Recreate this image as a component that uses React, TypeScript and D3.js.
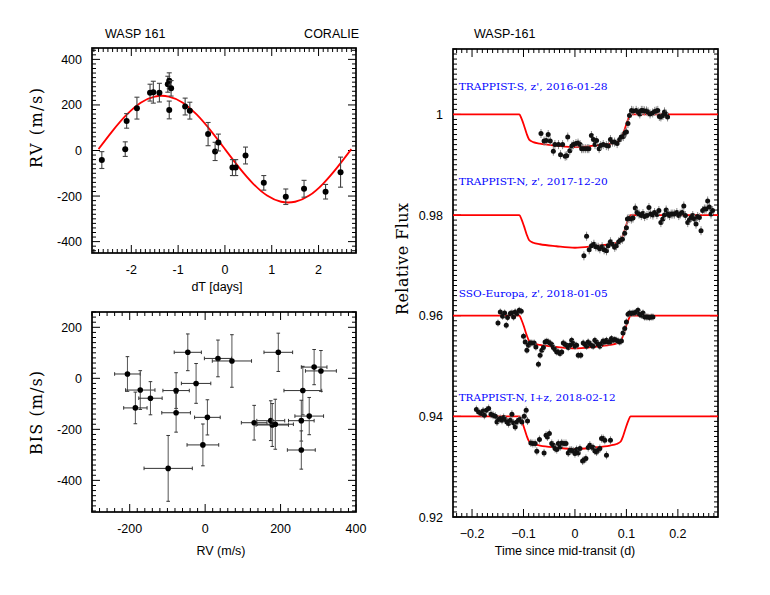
import React from "react";
import * as d3 from "d3";

// ---- top left: RV orbit (CORALIE) ----
const rvTime = [-2.63, -2.13, -2.1, -1.88, -1.6, -1.53, -1.4, -1.22, -1.19, -1.15, -1.19, -0.85, -0.75, -0.36, -0.21, -0.14, 0.16, 0.23, 0.44, 0.83, 1.3, 1.69, 2.15, 2.47];
const rvValue = [-42, 6, 130, 186, 254, 256, 254, 291, 306, 273, 178, 193, 175, 72, -4, 35, -75, -75, -22, -142, -203, -168, -181, -95];
const rvError = [37, 32, 32, 48, 37, 48, 41, 35, 35, 34, 39, 37, 37, 51, 40, 37, 35, 35, 37, 32, 34, 37, 32, 66];
// fitted orbit
const rvModelT = [-2.7, -2.4, -2.1, -1.8, -1.5, -1.2, -0.9, -0.6, -0.3, 0, 0.3, 0.6, 0.9, 1.2, 1.5, 1.8, 2.1, 2.4, 2.7];
const rvModelV = [6, 86, 157, 210, 237, 237, 210, 157, 86, 6, -74, -145, -198, -225, -225, -198, -145, -74, 6];
const rvXTicks = [-2, -1, 0, 1, 2];
const rvYTicks = [-400, -200, 0, 200, 400];

// ---- bottom left: bisector span vs RV ----
const bisRv = [-206, -172, -185, -145, -98, -77, -77, -46, -24, -6, 6, 34, 71, 194, 130, 174, 178, 186, 259, 255, 255, 276, 289, 307];
const bisRvErr = [34, 39, 31, 31, 64, 35, 38, 36, 39, 42, 34, 36, 52, 38, 34, 37, 43, 48, 50, 34, 37, 38, 34, 41];
const bisValue = [17, -46, -116, -78, -353, -48, -135, 102, -20, -261, -153, 78, 68, 102, -174, -166, -183, -180, -48, -166, -281, -148, 44, 29];
const bisErr = [68, 76, 62, 65, 129, 70, 76, 72, 78, 82, 69, 72, 103, 75, 68, 78, 84, 98, 95, 80, 75, 73, 69, 80];
const bisXTicks = [-200, 0, 200, 400];
const bisYTicks = [-400, -200, 0, 200];

// ---- right: transit light curves ----
const lcNames = ["TRAPPIST-S, z', 2016-01-28", "TRAPPIST-N, z', 2017-12-20", "SSO-Europa, z', 2018-01-05", "TRAPPIST-N, I+z, 2018-02-12"];
const lcOffset = [0, 0.02, 0.04, 0.06];
const lcLabelFlux = [1.0056, 0.9866, 0.9645, 0.9437];
const lcErr = [0.0009, 0.0009, 0.0007, 0.0008];

const ds1T = [-0.066, -0.06, -0.056, -0.052, -0.048, -0.042, -0.039, -0.032, -0.028, -0.024, -0.019, -0.016, -0.014, -0.01, -0.006, -0.003, 0.002, 0.006, 0.01, 0.013, 0.016, 0.02, 0.024, 0.027, 0.032, 0.036, 0.039, 0.042, 0.047, 0.05, 0.055, 0.061, 0.065, 0.069, 0.073, 0.077, 0.082, 0.087, 0.09, 0.094, 0.097, 0.1, 0.103, 0.106, 0.11, 0.113, 0.119, 0.123, 0.126, 0.129, 0.132, 0.135, 0.139, 0.142, 0.146, 0.151, 0.155, 0.158, 0.161, 0.164, 0.167, 0.171, 0.174, 0.177, 0.18];
const ds1F = [0.9962, 0.9947, 0.9948, 0.996, 0.9947, 0.9927, 0.994, 0.994, 0.992, 0.994, 0.9917, 0.9918, 0.9955, 0.9928, 0.9937, 0.994, 0.9942, 0.9943, 0.994, 0.9932, 0.9932, 0.9932, 0.9932, 0.9932, 0.9958, 0.995, 0.994, 0.9948, 0.9932, 0.9938, 0.994, 0.9938, 0.9937, 0.995, 0.9945, 0.9945, 0.9942, 0.995, 0.9955, 0.9956, 0.9963, 0.9965, 0.9982, 0.9998, 1.0008, 1.0007, 1.0008, 1.0005, 1.0001, 1.0008, 1.0008, 1.0007, 1.0007, 1.0005, 1.0001, 1.0003, 1.0006, 1.0007, 1.0008, 0.9996, 0.9995, 0.9998, 1.0005, 1.0001, 0.9995];

const ds2T = [0.0174, 0.0226, 0.0277, 0.0322, 0.0368, 0.0406, 0.0451, 0.0484, 0.0528, 0.0567, 0.0613, 0.0645, 0.069, 0.0729, 0.0774, 0.0806, 0.0851, 0.0884, 0.0922, 0.0967, 0.1, 0.102, 0.105, 0.1096, 0.1128, 0.1173, 0.1206, 0.1245, 0.129, 0.1322, 0.1354, 0.14, 0.1438, 0.147, 0.1515, 0.1547, 0.1593, 0.1631, 0.167, 0.1709, 0.174, 0.1773, 0.1806, 0.1838, 0.187, 0.1902, 0.1934, 0.198, 0.2018, 0.2044, 0.2083, 0.2115, 0.2147, 0.2192, 0.2224, 0.2257, 0.2289, 0.2321, 0.2353, 0.2385, 0.2418, 0.245, 0.2482, 0.2515, 0.2547, 0.2579, 0.2611, 0.2644, 0.2675];
const ds2F = [0.9919, 0.9958, 0.9931, 0.9939, 0.9942, 0.9937, 0.9936, 0.9933, 0.9937, 0.9931, 0.9929, 0.9939, 0.9947, 0.9942, 0.9936, 0.9939, 0.9947, 0.995, 0.9952, 0.9964, 0.9975, 0.9992, 0.9993, 0.9992, 0.9994, 1.0014, 1.0005, 1.0002, 0.9999, 1.0003, 0.9997, 0.9999, 1.0015, 1.0002, 1.0, 1.0005, 1.0001, 1.0009, 0.9985, 0.9992, 1.0, 1.001, 1.0002, 0.9999, 1.0002, 1.0002, 1.0002, 1.0005, 0.9999, 1.0002, 1.0005, 1.0018, 0.9999, 0.9985, 0.999, 0.9995, 0.9999, 0.9992, 0.9982, 0.9997, 0.9995, 0.9969, 1.0009, 1.0012, 1.0012, 1.0028, 1.0016, 1.0002, 1.0009];

const ds3T = [-0.1496, -0.1451, -0.1406, -0.1367, -0.1335, -0.1309, -0.1257, -0.1225, -0.1193, -0.1161, -0.1128, -0.1083, -0.1044, -0.1, -0.0967, -0.0934, -0.0903, -0.087, -0.0838, -0.0793, -0.076, -0.071, -0.0677, -0.0644, -0.0613, -0.058, -0.0547, -0.0516, -0.0484, -0.0451, -0.042, -0.0387, -0.0354, -0.0323, -0.029, -0.0257, -0.0226, -0.0193, -0.0161, -0.013, -0.0097, -0.0064, -0.0032, 0, 0.0032, 0.0064, 0.0113, 0.0161, 0.0193, 0.0226, 0.0257, 0.029, 0.0323, 0.0354, 0.0387, 0.042, 0.0451, 0.0484, 0.0516, 0.0547, 0.058, 0.0613, 0.0644, 0.0677, 0.071, 0.0742, 0.0774, 0.0806, 0.0838, 0.087, 0.0903, 0.0934, 0.0967, 0.1, 0.1032, 0.1064, 0.1096, 0.1128, 0.1161, 0.1193, 0.1225, 0.1257, 0.129, 0.1322, 0.1354, 0.1386, 0.1418, 0.145, 0.1483, 0.1515];
const ds3F = [0.99855, 1.00074, 0.99988, 1.00054, 0.99809, 0.99962, 1.00042, 1.00054, 0.99974, 1.00074, 1.00042, 1.00107, 1.00087, 0.99591, 0.99478, 0.99313, 0.99412, 0.99458, 0.99458, 0.99458, 0.99378, 0.99035, 0.99213, 0.99313, 0.99366, 0.99478, 0.99492, 0.99478, 0.99458, 0.99426, 0.99366, 0.99327, 0.99279, 0.99279, 0.99247, 0.99279, 0.99458, 0.99432, 0.99412, 0.99366, 0.99412, 0.99511, 0.99446, 0.99392, 0.99412, 0.99213, 0.99213, 0.99458, 0.99432, 0.99392, 0.99478, 0.99446, 0.99412, 0.99392, 0.99511, 0.99478, 0.99432, 0.99392, 0.99446, 0.99498, 0.99478, 0.99511, 0.99478, 0.99478, 0.99545, 0.99511, 0.99525, 0.99511, 0.99498, 0.99478, 0.99498, 0.99656, 0.99744, 0.99875, 1.00028, 1.00054, 1.00042, 1.00054, 1.00054, 1.00074, 1.00107, 1.00028, 1.00008, 1.00054, 0.99974, 0.99974, 0.99974, 0.99962, 0.99974, 0.99974];

const ds4T = [-0.1915, -0.187, -0.1824, -0.1785, -0.176, -0.1721, -0.1677, -0.1631, -0.1592, -0.1547, -0.1515, -0.1483, -0.1451, -0.1418, -0.1386, -0.1354, -0.1322, -0.129, -0.1257, -0.1225, -0.1193, -0.1161, -0.1128, -0.1096, -0.1064, -0.1032, -0.0986, -0.0948, -0.0922, -0.0857, -0.0818, -0.0774, -0.0741, -0.069, -0.06, -0.0561, -0.0535, -0.0497, -0.0451, -0.042, -0.0387, -0.0354, -0.0323, -0.029, -0.0257, -0.0213, -0.0174, -0.013, -0.0097, -0.0064, -0.0032, 0, 0.0032, 0.0064, 0.0097, 0.0148, 0.0174, 0.0213, 0.0258, 0.029, 0.0323, 0.0354, 0.0387, 0.042, 0.0451, 0.0484, 0.0516, 0.0548, 0.058, 0.0613, 0.069];
const ds4F = [1.00135, 1.00087, 1.00056, 1.00107, 1.00022, 1.00121, 1.00155, 1.00042, 1.00022, 1.00002, 0.99889, 0.99936, 0.99956, 0.99923, 0.99976, 0.99936, 0.99889, 0.99857, 0.99923, 1.00042, 0.99869, 0.99789, 0.99889, 0.99923, 0.99936, 0.99889, 1.00002, 1.00121, 0.99909, 0.99472, 0.9946, 0.9946, 0.99307, 0.99539, 0.99273, 0.99625, 0.99591, 0.99658, 0.9946, 0.99427, 0.9936, 0.9934, 0.9946, 0.99392, 0.99472, 0.9946, 0.9946, 0.99273, 0.99327, 0.99327, 0.99313, 0.99261, 0.9934, 0.99273, 0.9936, 0.99114, 0.99128, 0.99162, 0.9938, 0.99427, 0.99392, 0.9938, 0.99313, 0.99293, 0.99327, 0.9936, 0.99559, 0.99559, 0.99525, 0.99227, 0.99525];

// transit model shape (flux drop)
const modelT = [-0.24, -0.108, -0.104, -0.099, -0.094, -0.089, -0.081, -0.068, -0.036, 0, 0.036, 0.068, 0.081, 0.089, 0.094, 0.099, 0.104, 0.108, 0.28];
const modelDip = [0, 0, -0.0008, -0.0022, -0.0038, -0.005, -0.0055, -0.0058, -0.0062, -0.0065, -0.0062, -0.0058, -0.0055, -0.005, -0.0038, -0.0022, -0.0008, 0, 0];
const lcXTicks = [-0.2, -0.1, 0, 0.1, 0.2];
const lcYTicks = [0.92, 0.94, 0.96, 0.98, 1];

const sans = "'Liberation Sans', Arial, Helvetica, sans-serif";
const serif = "'DejaVu Serif', 'Liberation Serif', serif";

type Lin = d3.ScaleLinear<number, number>;

function stepTicks(s: Lin, step: number) {
  const [a, b] = s.domain();
  const lo = Math.min(a, b), hi = Math.max(a, b);
  const out: number[] = [];
  for (let i = Math.ceil(lo / step - 1e-9); i <= Math.floor(hi / step + 1e-9); i++) out.push(i * step);
  return out;
}

function Frame(props: {
  x: Lin; y: Lin; xMajor: number; xMinor: number; yMajor: number; yMinor: number;
  xLabels: number[]; yLabels: number[]; fmtX?: (v: number) => string; fmtY?: (v: number) => string;
}) {
  const { x, y, xMajor, xMinor, yMajor, yMinor, xLabels, yLabels } = props;
  const fmtX = props.fmtX || ((v: number) => String(v));
  const fmtY = props.fmtY || ((v: number) => String(v));
  const [x0, x1] = x.range();
  const [yb, yt] = y.range();
  const big = 8, small = 4;
  const isMaj = (v: number, st: number) => Math.abs(v / st - Math.round(v / st)) < 1e-4;
  return (
    <g>
      <g stroke="#000" strokeWidth={1}>
        {stepTicks(x, xMinor).map((v, i) => {
          const L = isMaj(v, xMajor) ? big : small;
          const px = x(v);
          return (
            <g key={"x" + i}>
              <line x1={px} x2={px} y1={yb} y2={yb - L} />
              <line x1={px} x2={px} y1={yt} y2={yt + L} />
            </g>
          );
        })}
        {stepTicks(y, yMinor).map((v, i) => {
          const L = isMaj(v, yMajor) ? big : small;
          const py = y(v);
          return (
            <g key={"y" + i}>
              <line x1={x0} x2={x0 + L} y1={py} y2={py} />
              <line x1={x1} x2={x1 - L} y1={py} y2={py} />
            </g>
          );
        })}
      </g>
      <rect x={x0} y={yt} width={x1 - x0} height={yb - yt} fill="none" stroke="#000" strokeWidth={1.7} />
      <g fontFamily={sans} fontSize={12.5} fill="#000">
        {xLabels.map((v) => (
          <text key={"xl" + v} x={x(v)} y={yb + 21} textAnchor="middle">{fmtX(v)}</text>
        ))}
        {yLabels.map((v) => (
          <text key={"yl" + v} x={x0 - 10} y={y(v) + 4.5} textAnchor="end">{fmtY(v)}</text>
        ))}
      </g>
    </g>
  );
}

export default function App() {
  const xRv = d3.scaleLinear().domain([-2.84, 2.8]).range([92, 356]);
  const yRv = d3.scaleLinear().domain([-450, 450]).range([253, 48]);
  const xBis = d3.scaleLinear().domain([-300, 400]).range([92, 356]);
  const yBis = d3.scaleLinear().domain([-524, 260]).range([512, 312]);
  const xLc = d3.scaleLinear().domain([-0.237, 0.278]).range([453, 718]);
  const yLc = d3.scaleLinear().domain([0.92, 1.013]).range([517, 49]);

  const rvLine = d3
    .line<number>()
    .x((_, i) => xRv(rvModelT[i]))
    .y((v) => yRv(v))
    .curve(d3.curveNatural);

  const lcT = [ds1T, ds2T, ds3T, ds4T];
  const lcF = [ds1F, ds2F, ds3F, ds4F];

  const fmtLc = (v: number) => (v === 1 ? "1" : d3.format(".2f")(v));
  const fmtLcX = (v: number) => (Math.abs(v) < 1e-9 ? "0" : d3.format(".1f")(v));

  return (
    <svg width={770} height={595} style={{ position: "absolute", left: 0, top: 0, background: "#fff" }}>
      <defs>
        <clipPath id="clipRv"><rect x={92} y={48} width={264} height={205} /></clipPath>
        <clipPath id="clipLc"><rect x={453} y={49} width={265} height={468} /></clipPath>
      </defs>
      <rect width={770} height={595} fill="#fff" />

      {/* titles */}
      <g fontFamily={sans} fontSize={12.5}>
        <text x={105} y={38}>WASP 161</text>
        <text x={359} y={38} textAnchor="end">CORALIE</text>
        <text x={474} y={38}>WASP-161</text>
      </g>

      {/* RV panel */}
      <Frame x={xRv} y={yRv} xMajor={1} xMinor={0.1} yMajor={200} yMinor={20} xLabels={rvXTicks} yLabels={rvYTicks} />
      <path d={rvLine(rvModelV) || ""} fill="none" stroke="#ff0000" strokeWidth={1.8} clipPath="url(#clipRv)" />
      <g>
        {rvTime.map((t, i) => {
          const px = xRv(t);
          const lo = yRv(rvValue[i] - rvError[i]);
          const hi = yRv(rvValue[i] + rvError[i]);
          return (
            <g key={"rv" + i} stroke="#444" strokeWidth={1.1}>
              <line x1={px} x2={px} y1={lo} y2={hi} />
              <line x1={px - 2.5} x2={px + 2.5} y1={lo} y2={lo} />
              <line x1={px - 2.5} x2={px + 2.5} y1={hi} y2={hi} />
              <circle cx={px} cy={yRv(rvValue[i])} r={3} fill="#000" stroke="none" />
            </g>
          );
        })}
      </g>
      <text x={217} y={291} textAnchor="middle" fontFamily={sans} fontSize={12.5}>dT [days]</text>
      <text transform="translate(36,128) rotate(-90)" textAnchor="middle" dominantBaseline="central"
        fontFamily={serif} fontSize={16} textLength={80} lengthAdjust="spacing">RV (m/s)</text>

      {/* BIS panel */}
      <Frame x={xBis} y={yBis} xMajor={200} xMinor={20} yMajor={200} yMinor={20} xLabels={bisXTicks} yLabels={bisYTicks} />
      <g>
        {bisRv.map((r, i) => {
          const px = xBis(r);
          const py = yBis(bisValue[i]);
          const xl = xBis(r - bisRvErr[i]);
          const xr = xBis(r + bisRvErr[i]);
          const yl = yBis(bisValue[i] - bisErr[i]);
          const yh = yBis(bisValue[i] + bisErr[i]);
          return (
            <g key={"bis" + i} stroke="#333" strokeWidth={1}>
              <line x1={xl} x2={xr} y1={py} y2={py} />
              <line x1={xl} x2={xl} y1={py - 1.8} y2={py + 1.8} />
              <line x1={xr} x2={xr} y1={py - 1.8} y2={py + 1.8} />
              <line x1={px} x2={px} y1={yl} y2={yh} stroke="#555" />
              <line x1={px - 1.8} x2={px + 1.8} y1={yl} y2={yl} />
              <line x1={px - 1.8} x2={px + 1.8} y1={yh} y2={yh} />
              <circle cx={px} cy={py} r={2.8} fill="#000" stroke="none" />
            </g>
          );
        })}
      </g>
      <text x={221} y={555} textAnchor="middle" fontFamily={sans} fontSize={12.5}>RV (m/s)</text>
      <text transform="translate(36,413) rotate(-90)" textAnchor="middle" dominantBaseline="central"
        fontFamily={serif} fontSize={16} textLength={84} lengthAdjust="spacing">BIS (m/s)</text>

      {/* light curves */}
      <Frame x={xLc} y={yLc} xMajor={0.1} xMinor={0.01} yMajor={0.02} yMinor={0.001}
        xLabels={lcXTicks} yLabels={lcYTicks} fmtX={fmtLcX} fmtY={fmtLc} />
      <g clipPath="url(#clipLc)">
        {lcOffset.map((off, k) => {
          const line = d3
            .line<number>()
            .x((_, i) => xLc(modelT[i]))
            .y((d) => yLc(1 - off + d))
            .curve(d3.curveMonotoneX);
          return <path key={"m" + k} d={line(modelDip) || ""} fill="none" stroke="#ff0000" strokeWidth={1.8} />;
        })}
        {lcT.map((ts, k) =>
          ts.map((t, i) => {
            const f = lcF[k][i];
            if (f === undefined) return null;
            const v = f - lcOffset[k];
            const px = xLc(t);
            return (
              <g key={"p" + k + "_" + i}>
                <line x1={px} x2={px} y1={yLc(v - lcErr[k])} y2={yLc(v + lcErr[k])} stroke="#8a8a8a" strokeWidth={1} />
                <circle cx={px} cy={yLc(v)} r={2.5} fill="#111" />
              </g>
            );
          })
        )}
      </g>
      <g fontFamily={serif} fontSize={10} fill="#0000ff">
        {lcNames.map((n, k) => (
          <text key={n} x={xLc(-0.226)} y={yLc(lcLabelFlux[k]) + 3.5}
            textLength={n.length > 26 ? 157 : 149} lengthAdjust="spacingAndGlyphs">{n}</text>
        ))}
      </g>
      <text x={565} y={555} textAnchor="middle" fontFamily={sans} fontSize={12.5}>Time since mid-transit (d)</text>
      <text transform="translate(402,259) rotate(-90)" textAnchor="middle" dominantBaseline="central"
        fontFamily={serif} fontSize={16} textLength={112} lengthAdjust="spacing">Relative Flux</text>
    </svg>
  );
}
